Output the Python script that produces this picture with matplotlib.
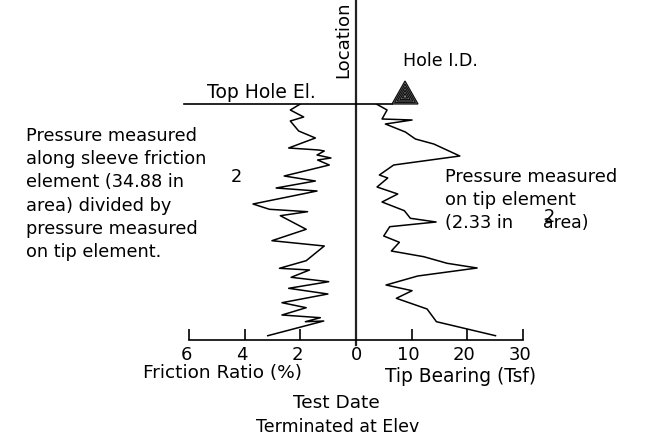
import matplotlib
matplotlib.use("Agg")
import matplotlib.pyplot as plt
from matplotlib.patches import Polygon
from matplotlib.transforms import ScaledTranslation

# values, depth is in arbitrary units below top of hole
fr_ratio = [2.0, 2.36, 1.88, 2.36, 2.06, 1.46, 2.42, 1.34, 1.14, 1.40, 0.90, 1.38, 0.96,
            2.58, 1.46, 2.87, 1.40, 3.70, 3.11, 1.74, 2.72, 1.79, 3.02, 1.14, 1.79, 2.75,
            1.67, 2.33, 0.98, 2.42, 1.01, 2.66, 1.79, 2.66, 1.28, 1.82, 1.16, 3.17]
fr_depth = [0, 6, 13, 17, 27, 34, 44, 46, 47, 51, 54, 56, 61,
            72, 77, 84, 87, 100, 105.3, 107.7, 111.7, 125.3, 136.7, 142, 156.7, 164.3,
            166, 173.3, 177.7, 184.3, 190, 198.7, 203.7, 211, 213.7, 217.7, 217, 231.7]
tip_tsf = [3.66, 5.58, 4.68, 10.07, 5.28, 8.87, 10.67, 13.97, 18.65, 6.77, 4.2, 5.7, 3.78,
           7.5, 4.68, 8.69, 9.77, 14.39, 6.06, 4.98, 7.79, 6.35, 12.17, 16.37, 21.76,
           11.09, 5.4, 10.07, 7.25, 12.77, 14.45, 25.06]
tip_depth = [0, 6, 15, 16, 20, 28, 35, 40, 52, 61, 71, 74, 83,
             90, 98, 106.7, 114.3, 118, 122.7, 132, 138.3, 147, 152.7, 159.3, 164,
             172, 181, 186.7, 194.3, 205, 217.7, 231.7]
fr_ticks = [6, 4, 2, 0]
tip_ticks = [0, 10, 20, 30]
max_depth = 236

W, H = 651, 436
plt.rcParams["font.family"] = "DejaVu Sans"


def box(x0, y0, x1, y1):
    return [x0 / W, 1 - y1 / H, (x1 - x0) / W, (y1 - y0) / H]


def label(x, y, s, size=12.8, va="center", **kw):
    fig.text(x / W, 1 - y / H, s, fontsize=size, va=va, **kw)


fig = plt.figure(figsize=(W / 100, H / 100), dpi=100)
ax1 = fig.add_axes(box(189, 104, 356, 340))
ax2 = fig.add_axes(box(356, 104, 523, 340))

ax1.plot(fr_ratio, fr_depth, "k-", lw=1.1)
ax2.plot(tip_tsf, tip_depth, "k-", lw=1.1)
ax1.set_xlim(6, 0)
ax2.set_xlim(0, 30)
for ax in (ax1, ax2):
    ax.set_ylim(max_depth, 0)
    ax.set_yticks([])
    ax.patch.set_alpha(0)
    for s in ["top", "left", "right"]:
        ax.spines[s].set_visible(False)
    ax.spines["bottom"].set_linewidth(1.2)
    ax.tick_params(axis="x", direction="in", length=8, width=1.2, labelsize=13, pad=4)
ax1.set_xticks(fr_ticks)
ax2.set_xticks(tip_ticks)
ax1.set_xticklabels(["6", "4", "2", ""])
ax2.set_xticklabels(["0", "10", "20", "30"])
for ax in (ax1, ax2):
    for t in ax.get_xticklabels():
        if t.get_text() != "0":
            t.set_transform(t.get_transform() + ScaledTranslation(-3 / 100, 0, fig.dpi_scale_trans))

# centre line and top of hole line
ax2.plot([0, 0], [max_depth + 5, -104], color="#222222", lw=1.6, clip_on=False)
fig.add_artist(plt.Line2D([184 / W, 392 / W], [1 - 104 / H, 1 - 104 / H], color="k", lw=1.2))

# hole symbol, nested triangles
cx, cy = 405, 96.5
for f in [1, 0.8, 0.6, 0.4, 0.2]:
    pts = [(cx - 13 * f, cy + 7.5 * f), (cx + 13 * f, cy + 7.5 * f), (cx, cy - 15.5 * f)]
    pts = [(px / W, 1 - py / H) for px, py in pts]
    fig.add_artist(Polygon(pts, closed=True, transform=fig.transFigure, fc="#888888", ec="#111111", lw=0.9))

label(343, 78, "Location", rotation=90, ha="center", va="bottom", size=13.1)
label(403, 61, "Hole I.D.", size=12.6)
label(207, 92, "Top Hole El.", size=13.5)

lines_left = ["Pressure measured", "along sleeve friction", "element (34.88 in",
              "area) divided by", "pressure measured", "on tip element."]
for i, s in enumerate(lines_left):
    label(26, 136 + i * 23.2, s)
label(231, 177, "2")

lines_right = ["Pressure measured", "on tip element", "(2.33 in"]
for i, s in enumerate(lines_right):
    label(445, 177 + i * 23, s, size=12.9)
label(543, 223, "area)", size=12.4)
label(544, 217, "2")

label(143, 373, "Friction Ratio (%)", size=13.3)
label(385, 376, "Tip Bearing (Tsf)", size=13.4)
label(293, 403, "Test Date", size=13.3)
label(256, 427, "Terminated at Elev", size=12.5)

fig.savefig("out.png", dpi=100)
